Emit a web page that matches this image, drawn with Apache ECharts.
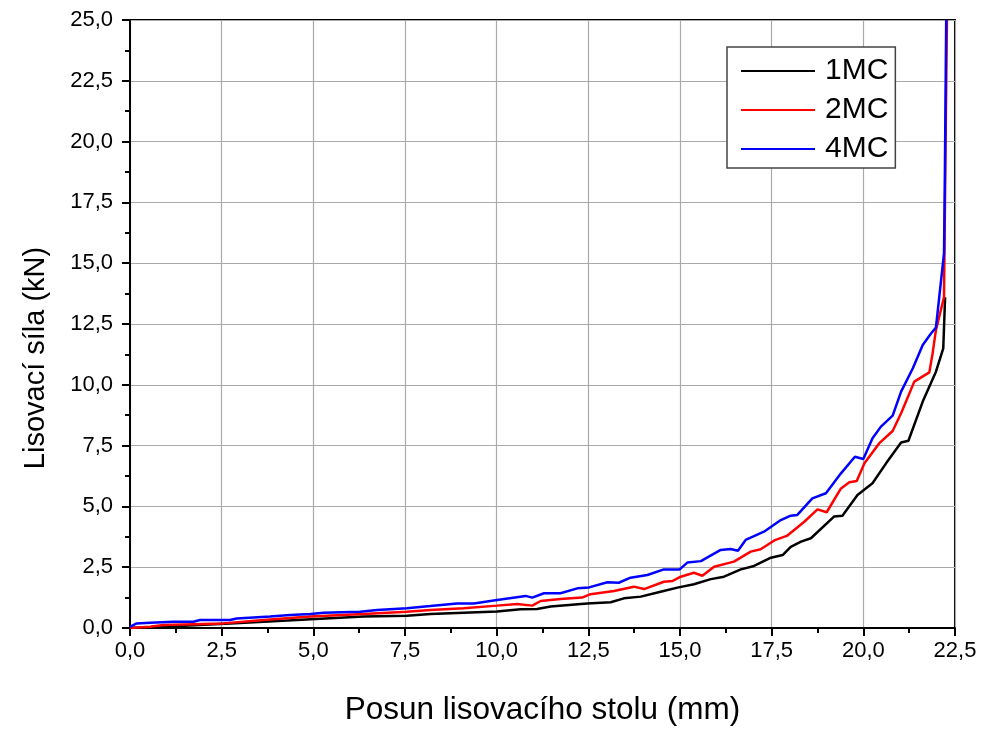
<!DOCTYPE html>
<html>
<head>
<meta charset="utf-8">
<script src="https://cdn.jsdelivr.net/npm/echarts@6/dist/echarts.min.js"></script>
<style>
  html, body { margin: 0; padding: 0; background: #fff; }
  #chart { width: 989px; height: 731px; }
</style>
</head>
<body>
<div id="chart"></div>
<script>
// 1MC (black)
var x1MC = [0, 0.91, 2.73, 4.55, 6.37, 7.55, 8.19, 9.1, 10.01, 10.65, 11.1, 11.47, 12.47, 13.11, 13.47, 13.93, 14.47, 14.93, 15.38, 15.84, 16.2, 16.66, 17.02, 17.48, 17.8, 18.02, 18.3, 18.57, 19.2, 19.43, 19.84, 20.25, 20.62, 21.03, 21.23, 21.62, 21.98, 22.18, 22.23];
var y1MC = [0, 0.05, 0.19, 0.33, 0.47, 0.5, 0.58, 0.63, 0.68, 0.77, 0.78, 0.88, 1.01, 1.06, 1.22, 1.29, 1.49, 1.66, 1.8, 2.01, 2.11, 2.41, 2.55, 2.89, 3.0, 3.34, 3.55, 3.69, 4.58, 4.62, 5.47, 5.95, 6.77, 7.63, 7.7, 9.31, 10.54, 11.5, 13.6];
// 2MC (red)
var x2MC = [0, 0.55, 0.91, 2.55, 3.64, 4.92, 6.37, 7.55, 8.19, 9.1, 10.01, 10.56, 10.97, 11.2, 11.74, 12.33, 12.56, 13.2, 13.74, 14.02, 14.56, 14.79, 15.02, 15.38, 15.61, 15.93, 16.47, 16.93, 17.2, 17.57, 17.93, 18.39, 18.75, 19.0, 19.39, 19.62, 19.82, 20.03, 20.43, 20.8, 21.03, 21.39, 21.8, 21.89, 21.98, 22.2, 22.25, 22.28];
var y2MC = [0, 0.05, 0.12, 0.19, 0.33, 0.47, 0.58, 0.67, 0.74, 0.81, 0.92, 0.99, 0.92, 1.11, 1.19, 1.25, 1.39, 1.52, 1.7, 1.6, 1.9, 1.93, 2.11, 2.27, 2.15, 2.52, 2.73, 3.14, 3.24, 3.6, 3.8, 4.37, 4.88, 4.76, 5.74, 5.99, 6.04, 6.77, 7.59, 8.1, 8.83, 10.13, 10.51, 11.3, 12.25, 13.6, 20.9, 25];
// 4MC (blue)
var x4MC = [0, 0.18, 0.55, 1.18, 1.73, 1.91, 2.73, 2.91, 3.82, 4.37, 4.92, 5.28, 6.28, 6.74, 7.55, 8.19, 8.92, 9.38, 10.01, 10.79, 10.97, 11.29, 11.74, 12.2, 12.52, 13.02, 13.33, 13.65, 14.11, 14.56, 14.99, 15.2, 15.57, 16.11, 16.38, 16.58, 16.79, 17.29, 17.75, 18.02, 18.2, 18.61, 18.98, 19.39, 19.77, 20.0, 20.25, 20.48, 20.8, 21.03, 21.35, 21.62, 21.85, 21.98, 22.2, 22.22, 22.26];
var y4MC = [0.05, 0.19, 0.22, 0.26, 0.26, 0.33, 0.33, 0.39, 0.47, 0.53, 0.58, 0.63, 0.67, 0.74, 0.81, 0.9, 1.01, 1.01, 1.15, 1.32, 1.25, 1.43, 1.43, 1.63, 1.67, 1.88, 1.86, 2.07, 2.18, 2.41, 2.41, 2.69, 2.75, 3.21, 3.25, 3.18, 3.62, 3.96, 4.44, 4.62, 4.65, 5.33, 5.54, 6.36, 7.04, 6.95, 7.8, 8.28, 8.73, 9.72, 10.68, 11.64, 12.12, 12.35, 15.4, 18, 25];

var seriesNames = ['1MC', '2MC', '4MC'];
var seriesColors = ['#000000', '#ff0000', '#0000ff'];

function pairs(xs, ys) {
    var out = [];
    for (var i = 0; i < xs.length; i++) out.push([xs[i], ys[i]]);
    return out;
}
function comma(v) {
    return v.toFixed(1).replace('.', ',');
}

var chart = echarts.init(document.getElementById('chart'), null, {renderer: 'canvas'});
var font = "'Liberation Sans', Arial, sans-serif";

var axisCommon = {
    type: 'value',
    axisLine: {show: true, onZero: false, lineStyle: {color: '#000', width: 2}},
    axisTick: {show: true, length: 8, lineStyle: {color: '#000', width: 2}},
    minorTick: {show: true, splitNumber: 2, length: 5, lineStyle: {color: '#000', width: 2}},
    splitLine: {show: true, lineStyle: {color: '#aaaaaa', width: 1.2}},
    axisLabel: {color: '#000', fontSize: 22, fontFamily: font, formatter: comma},
    nameLocation: 'middle',
    nameTextStyle: {color: '#000', fontFamily: font}
};

var option = {
    animation: false,
    backgroundColor: '#fff',
    grid: {
        left: 130, right: 34, top: 20, bottom: 103,
        show: true, borderColor: '#000', borderWidth: 2, backgroundColor: 'transparent'
    },
    legend: {
        orient: 'vertical',
        left: 727,
        top: 47,
        padding: [9, 7, 4, 14],
        itemGap: 9,
        itemWidth: 74,
        itemHeight: 2,
        icon: 'rect',
        borderColor: '#444',
        borderWidth: 1.5,
        backgroundColor: '#fff',
        textStyle: {color: '#000', fontSize: 30, fontFamily: font, padding: [0, 0, 0, 5]},
        data: seriesNames
    },
    xAxis: Object.assign({}, axisCommon, {
        min: 0, max: 22.5, interval: 2.5,
        name: 'Posun lisovacího stolu (mm)',
        nameGap: 66,
        nameTextStyle: {color: '#000', fontFamily: font, fontSize: 31.5},
        axisLabel: Object.assign({}, axisCommon.axisLabel, {margin: 12})
    }),
    yAxis: Object.assign({}, axisCommon, {
        min: 0, max: 25, interval: 2.5,
        name: 'Lisovací síla (kN)',
        nameGap: 80,
        nameTextStyle: {color: '#000', fontFamily: font, fontSize: 29, padding: [0, 68, 0, 0]},
        axisLabel: Object.assign({}, axisCommon.axisLabel, {margin: 17})
    }),
    series: [
        {name: seriesNames[0], data: pairs(x1MC, y1MC)},
        {name: seriesNames[1], data: pairs(x2MC, y2MC)},
        {name: seriesNames[2], data: pairs(x4MC, y4MC)}
    ].map(function (s, i) {
        return {
            name: s.name,
            type: 'line',
            data: s.data,
            showSymbol: false,
            symbol: 'none',
            clip: true,
            color: seriesColors[i],
            lineStyle: {color: seriesColors[i], width: 2.5}
        };
    })
};

chart.setOption(option);
</script>
</body>
</html>
